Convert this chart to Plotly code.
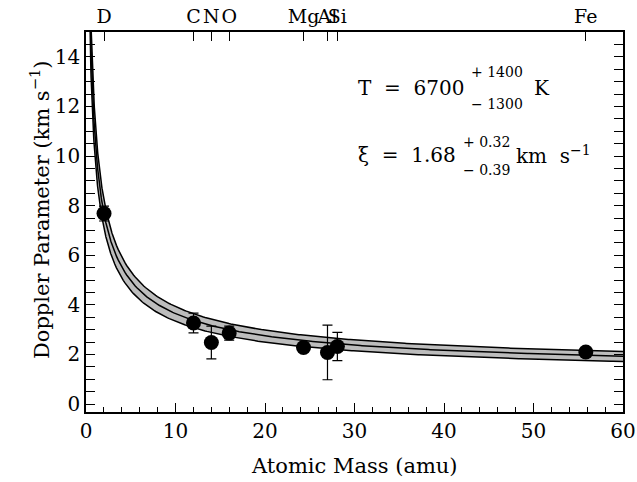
import numpy as np
import plotly.graph_objects as go

# ---- data ----
elements = ["D", "C", "N", "O", "Mg", "Al", "Si", "Fe"]
masses = [2.014, 12.011, 14.007, 15.999, 24.305, 26.982, 28.086, 55.845]
b_obs = [7.68, 3.27, 2.48, 2.86, 2.28, 2.08, 2.32, 2.1]
b_err_plus = [0.3, 0.4, 0.66, 0.28, 0.1, 1.1, 0.57, 0.1]
b_err_minus = [0.3, 0.4, 0.66, 0.28, 0.1, 1.1, 0.57, 0.1]

# curve parameters as drawn in the reference (best curve and band edges)
T_curve, xi_curve = 6900.0, 1.35
T_hi, xi_hi = 7900.0, 1.52
T_lo, xi_lo = 5900.0, 1.15
K_OVER_AMU = 0.016629  # 2k/amu in km^2 s^-2 K^-1

def bmodel(A, T, xi):
    return np.sqrt(K_OVER_AMU * T / A + xi ** 2)

A = np.concatenate([np.linspace(0.3, 3, 120), np.linspace(3.02, 60, 300)])
b_mid = bmodel(A, T_curve, xi_curve)
b_up = bmodel(A, T_hi, xi_hi)
b_lo = bmodel(A, T_lo, xi_lo)

FONT = "DejaVu Serif"
fig = go.Figure()
fig.add_trace(go.Scatter(x=A, y=b_lo, mode="lines", line=dict(color="black", width=1.5),
                         hoverinfo="skip", showlegend=False))
fig.add_trace(go.Scatter(x=A, y=b_up, mode="lines", line=dict(color="black", width=1.5),
                         fill="tonexty", fillcolor="#bdbdbd", hoverinfo="skip", showlegend=False))
fig.add_trace(go.Scatter(x=A, y=b_mid, mode="lines", line=dict(color="black", width=1.5),
                         hoverinfo="skip", showlegend=False))
fig.add_trace(go.Scatter(x=masses, y=b_obs, mode="markers",
                         marker=dict(color="black", size=15),
                         error_y=dict(type="data", array=b_err_plus, arrayminus=b_err_minus,
                                      color="black", thickness=1.2, width=5),
                         showlegend=False))
# invisible trace for the top axis
fig.add_trace(go.Scatter(x=masses, y=b_obs, xaxis="x2", mode="markers",
                         marker=dict(opacity=0), hoverinfo="skip", showlegend=False))

tick_font = dict(family=FONT, size=20, color="black")
axis_common = dict(showgrid=False, zeroline=False, showline=True, linecolor="black",
                   linewidth=1.5, ticks="inside", tickcolor="black", tickwidth=1.2,
                   automargin=False)

fig.update_layout(
    width=637, height=482,
    margin=dict(l=86, r=14, t=32, b=70),
    paper_bgcolor="white", plot_bgcolor="white",
    xaxis=dict(range=[0, 60], dtick=10, ticklen=9, tickangle=0, tickfont=tick_font,
               minor=dict(dtick=2, ticklen=5, ticks="inside", tickcolor="black"),
               **axis_common),
    xaxis2=dict(range=[0, 60], overlaying="x", side="top", tickmode="array",
                tickvals=masses, ticktext=elements, ticklen=9, tickangle=0,
                tickfont=dict(family=FONT, size=19, color="black"),
                **axis_common),
    yaxis=dict(range=[-0.32, 15], dtick=2, ticklen=9, mirror="allticks", tickangle=0,
               tickfont=tick_font,
               minor=dict(dtick=0.5, ticklen=5, ticks="inside", tickcolor="black"),
               **axis_common),
)

ann_font = dict(family=FONT, size=20, color="black")
title_font = dict(family=FONT, size=21, color="black")
small_font = dict(family=FONT, size=14, color="black")
anns = [
    dict(x=30.2, y=12.75, text="T  =  6700", font=ann_font, xanchor="left"),
    dict(x=42.8, y=13.4, text="+ 1400", font=small_font, xanchor="left"),
    dict(x=42.8, y=12.1, text="\u2212 1300", font=small_font, xanchor="left"),
    dict(x=49.8, y=12.75, text="K", font=ann_font, xanchor="left"),
    dict(x=30.2, y=10.05, text="\u03be  =  1.68", font=ann_font, xanchor="left"),
    dict(x=41.9, y=10.55, text="+ 0.32", font=small_font, xanchor="left"),
    dict(x=41.9, y=9.45, text="\u2212 0.39", font=small_font, xanchor="left"),
    dict(x=47.8, y=10.05, text="km  s<sup>\u22121</sup>", font=ann_font, xanchor="left"),
]
for a in anns:
    a.update(xref="x", yref="y", showarrow=False, yanchor="middle")
anns.append(dict(x=0.5, y=-0.142, xref="paper", yref="paper", showarrow=False,
                 text="Atomic Mass (amu)", font=title_font, xanchor="center", yanchor="middle"))
anns.append(dict(x=-0.0857, y=0.534, xref="paper", yref="paper", showarrow=False,
                 text="Doppler Parameter (km s<sup>\u22121</sup>)", font=title_font,
                 textangle=-90, xanchor="center", yanchor="middle"))
fig.update_layout(annotations=anns)

# remove the default page margin so the figure fills the 637x482 window exactly
fig.write_html("out.html", config={"displayModeBar": False},
               post_script="document.body.style.margin='0px';document.body.style.overflow='hidden';")
